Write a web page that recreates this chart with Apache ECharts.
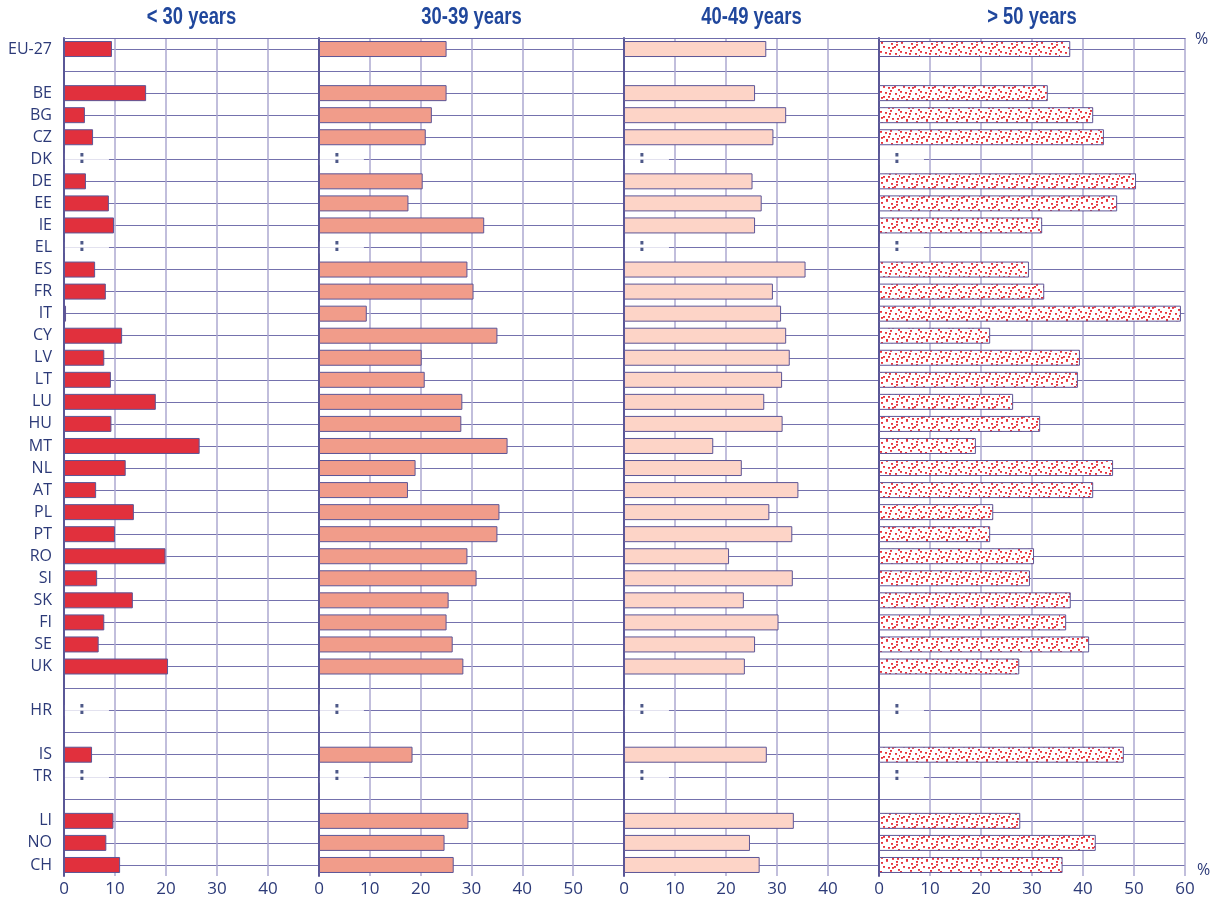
<!DOCTYPE html>
<html><head><meta charset="utf-8">
<script src="https://cdn.jsdelivr.net/npm/echarts@6/dist/echarts.min.js"></script>
<style>html,body{margin:0;padding:0;background:#fff}#c{width:1215px;height:900px}</style>
</head><body><div id="c"></div>
<script>
const NA = ':';
const categories = ['EU-27','', 'BE','BG','CZ','DK','DE','EE','IE','EL','ES','FR','IT','CY','LV','LT','LU','HU','MT','NL','AT','PL','PT','RO','SI','SK','FI','SE','UK',' ','HR','  ','IS','TR','   ','LI','NO','CH'];
const panelTitles = ['< 30 years', '30-39 years', '40-49 years', '> 50 years'];
const under30   = [9.4, null, 16.1, 4.1, 5.7, NA, 4.3, 8.8, 9.8, NA, 6.1, 8.2, 0.4, 11.4, 7.9, 9.2, 18.0, 9.3, 26.6, 12.1, 6.3, 13.7, 10.0, 19.9, 6.5, 13.5, 7.9, 6.8, 20.4, null, NA, null, 5.5, NA, null, 9.7, 8.3, 11.0];
const age30to39 = [25.1, null, 25.1, 22.2, 21.0, NA, 20.4, 17.6, 32.5, NA, 29.2, 30.4, 9.4, 35.1, 20.2, 20.8, 28.2, 28.0, 37.1, 19.0, 17.5, 35.5, 35.1, 29.2, 31.0, 25.5, 25.1, 26.3, 28.4, null, NA, null, 18.4, NA, null, 29.4, 24.7, 26.5];
const age40to49 = [27.9, null, 25.7, 31.8, 29.3, NA, 25.2, 27.0, 25.7, NA, 35.6, 29.2, 30.8, 31.8, 32.5, 31.0, 27.5, 31.1, 17.5, 23.1, 34.2, 28.5, 33.0, 20.6, 33.1, 23.5, 30.3, 25.7, 23.7, null, NA, null, 28.0, NA, null, 33.3, 24.7, 26.6];
const over50    = [37.5, null, 33.1, 42.0, 44.1, NA, 50.4, 46.7, 32.0, NA, 29.4, 32.4, 59.2, 21.8, 39.4, 39.0, 26.3, 31.6, 19.0, 45.9, 42.0, 22.4, 21.8, 30.4, 29.6, 37.6, 36.7, 41.2, 27.5, null, NA, null, 48.0, NA, null, 27.7, 42.5, 36.0];
const axisMax = [50, 60, 50, 60];
const tickStep = 10;

// layout / style
const panelLeft = [64, 319, 624, 879];
const panelWidth = [255, 305, 255, 306];
const plotTop = 38, plotHeight = 838;
const navy = '#2c3a78';
const titleBlue = '#20479c';

// dotted pattern for "> 50 years"
const pat = document.createElement('canvas');
pat.width = 20; pat.height = 20;
const pc = pat.getContext('2d');
pc.fillStyle = '#ffffff'; pc.fillRect(0,0,20,20);
pc.fillStyle = '#e8323c';
[[1,2],[6,0],[11,3],[16,1],[3,6],[8,7],[14,6],[18,9],[0,11],[5,12],[10,10],[15,13],[19,15],[3,16],[8,16],[12,18],[17,18],[6,19],[12,7],[1,17],[9,13],[16,4]].forEach(p => pc.fillRect(p[0], p[1], 2, 1.8));

const fills = ['#e1303d', '#f19c8a', '#fdd4c7', {image: pat, repeat: 'repeat'}];
const panels = [under30, age30to39, age40to49, over50];

const grid = [], xAxis = [], yAxis = [], series = [], graphic = [];
panels.forEach((vals, i) => {
  grid.push({left: panelLeft[i], width: panelWidth[i], top: plotTop, height: plotHeight});
  graphic.push({type: 'text', x: panelLeft[i] + panelWidth[i] / 2, y: 6, scaleX: 0.8,
    style: {text: panelTitles[i], textAlign: 'center', fill: titleBlue, fontSize: 23, fontWeight: 'bold', fontFamily: "'Liberation Sans', Arial, sans-serif"}});
  xAxis.push({type: 'value', gridIndex: i, min: 0, max: axisMax[i], interval: tickStep,
    axisLine: {show: false}, axisTick: {show: false},
    axisLabel: {color: navy, fontSize: 17, fontFamily: 'Open Sans', margin: 5, showMaxLabel: i === 3},
    splitLine: {show: true, lineStyle: {color: '#aca8d0', width: 1.5}}});
  xAxis.push({type: 'value', gridIndex: i, position: 'top', min: 0, max: axisMax[i],
    axisLine: {show: true, lineStyle: {color: '#6f6cab', width: 1}}, axisTick: {show: false},
    axisLabel: {show: false}, splitLine: {show: false}});
  yAxis.push({type: 'category', gridIndex: i, data: categories, inverse: true,
    axisLine: {show: true, lineStyle: {color: '#5a5797', width: 2}}, axisTick: {show: false},
    axisLabel: {show: i === 0, color: navy, fontSize: 16, fontFamily: 'Open Sans', margin: 12},
    splitLine: {show: true, interval: 0, alignWithLabel: true, lineStyle: {color: '#7471ad', width: 1}}});
  series.push({type: 'bar', xAxisIndex: i * 2, yAxisIndex: i, barWidth: 16, silent: true,
    data: vals.map(v => typeof v === 'number' ? v : '-'),
    itemStyle: {color: fills[i], borderColor: '#5d5697', borderWidth: 1}});
  const naPts = [];
  vals.forEach((v, k) => { if (v === NA) naPts.push([4.5, k]); });
  series.push({type: 'scatter', xAxisIndex: i * 2, yAxisIndex: i, silent: true, z: 3,
    symbol: 'rect', symbolSize: [44, 12], itemStyle: {color: '#ffffff'},
    label: {show: true, formatter: NA, position: 'inside', offset: [-5, -1], color: '#22306a', fontSize: 17, fontWeight: 'bold', fontFamily: 'DejaVu Sans'},
    data: naPts});
});
graphic.push(
  {type: 'text', left: 1195, top: 31, style: {text: '%', fill: navy, fontSize: 16, fontFamily: 'Open Sans'}},
  {type: 'text', left: 1197, top: 862, style: {text: '%', fill: navy, fontSize: 16, fontFamily: 'Open Sans'}}
);

const chart = echarts.init(document.getElementById('c'), null, {renderer: 'canvas'});
chart.setOption({
  animation: false,
  grid, xAxis, yAxis, series, graphic
});
</script></body></html>
